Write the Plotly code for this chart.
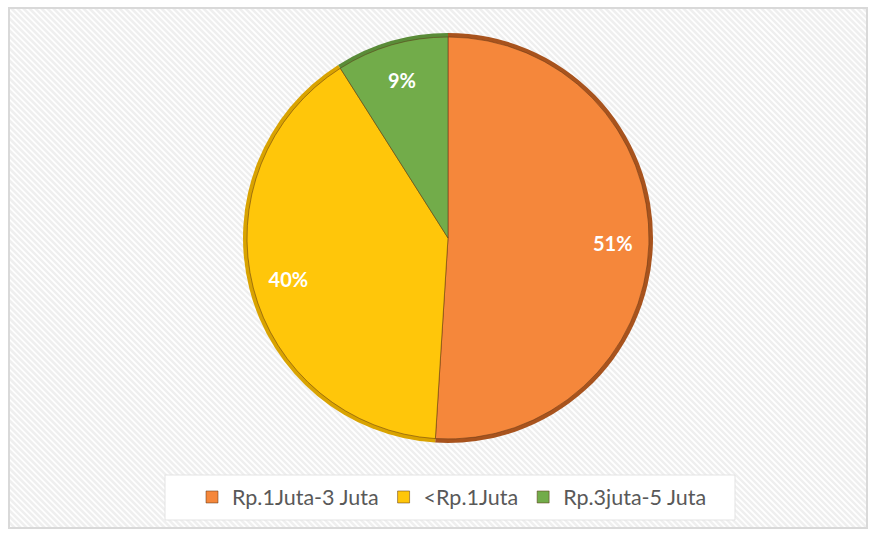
import plotly.graph_objs as go

# data
labels = ["Rp.1Juta-3 Juta", "<Rp.1Juta", "Rp.3juta-5 Juta"]
values = [51, 40, 9]

# style
slice_colors = ["#F5873B", "#FFC60A", "#72AC4A"]
rim_colors = ["#A8531D", "#D9A300", "#5A8C38"]
text_font = "Lato, 'Open Sans', sans-serif"
W, H = 876, 536

# pie placement (paper coords, zero margins)
cx, cy, r = 448 / W, 1 - 238 / H, 205
dom_x = [cx - r / W, cx + r / W]
dom_y = [cy - r / H, cy + r / H]
r2 = r - 4
dom_x2 = [cx - r2 / W, cx + r2 / W]
dom_y2 = [cy - r2 / H, cy + r2 / H]

common = dict(labels=labels, values=values, sort=False, direction="clockwise")

rim = go.Pie(
    **common, domain=dict(x=dom_x, y=dom_y), textinfo="none",
    hoverinfo="skip", showlegend=False,
    marker=dict(colors=rim_colors, line=dict(width=0)),
)
main = go.Pie(
    **common, domain=dict(x=dom_x2, y=dom_y2), textinfo="none",
    marker=dict(colors=slice_colors, line=dict(color="rgba(90,50,20,0.5)", width=1)),
)
# transparent ring that only carries the labels further out
text_ring = go.Pie(
    **common, domain=dict(x=dom_x2, y=dom_y2), hole=0.64,
    texttemplate="%{percent:.0%}", textposition="inside",
    insidetextorientation="horizontal",
    textfont=dict(family=text_font, size=20, color="white", weight="bold"),
    marker=dict(colors=["rgba(0,0,0,0)"] * 3, line=dict(width=0)),
    hoverinfo="skip", showlegend=False,
)

fig = go.Figure(data=[rim, main, text_ring])

# hatched background inside the frame
fx0, fy0, fx1, fy1 = 9, 8, 867, 528
shapes = []
step = 6
h = fy1 - fy0
x = fx0 - h
while x < fx1:
    xa, ya = x, fy0
    xb, yb = x + h, fy1
    if xa < fx0:
        ya += fx0 - xa
        xa = fx0
    if xb > fx1:
        yb -= xb - fx1
        xb = fx1
    shapes.append(dict(
        type="line", xref="paper", yref="paper",
        x0=xa / W, y0=1 - ya / H, x1=xb / W, y1=1 - yb / H,
        line=dict(color="#EFEFEF", width=2.5), layer="below",
    ))
    x += step
shapes.append(dict(
    type="rect", xref="paper", yref="paper",
    x0=fx0 / W, y0=1 - fy1 / H, x1=fx1 / W, y1=1 - fy0 / H,
    line=dict(color="#D9D9D9", width=2), layer="below",
))
# legend box
shapes.append(dict(
    type="rect", xref="paper", yref="paper",
    x0=165 / W, y0=1 - 520 / H, x1=735 / W, y1=1 - 475 / H,
    fillcolor="white", line=dict(color="#E3E3E3", width=1), layer="below",
))

fig.update_layout(
    width=W, height=H,
    margin=dict(l=0, r=0, t=0, b=0),
    paper_bgcolor="white",
    shapes=shapes,
    legend=dict(
        orientation="h", x=452 / W, xanchor="center", y=1 - 497 / H, yanchor="middle",
        bgcolor="rgba(0,0,0,0)", borderwidth=0,
        font=dict(family=text_font, size=21.5, color="#595959"),
        itemwidth=30,
    ),
)

fig.write_html("out.html", config=dict(displayModeBar=False),
               post_script="document.body.style.margin='0';")
